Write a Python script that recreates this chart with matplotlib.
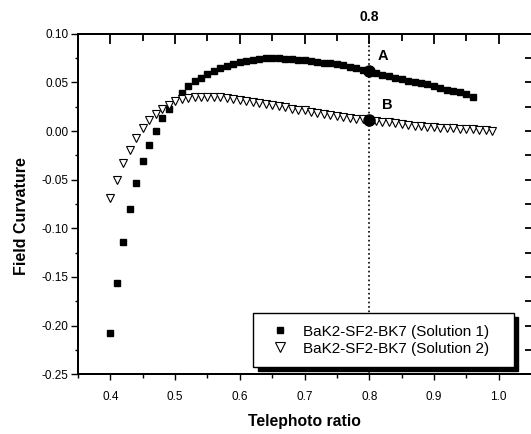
from matplotlib import pyplot as plt
import numpy as np

plt.rcParams['font.family'] = ['Liberation Sans', 'DejaVu Sans']

# Solution 1 (filled squares)
sol1_x = [0.40, 0.41, 0.42, 0.43, 0.44, 0.45, 0.46, 0.47, 0.48, 0.49,
          0.51, 0.52, 0.53, 0.54, 0.55, 0.56, 0.57, 0.58, 0.59, 0.60,
          0.61, 0.62, 0.63, 0.64, 0.65, 0.66, 0.67, 0.68, 0.69, 0.70,
          0.71, 0.72, 0.73, 0.74, 0.75, 0.76, 0.77, 0.78, 0.79, 0.80,
          0.81, 0.82, 0.83, 0.84, 0.85, 0.86, 0.87, 0.88, 0.89, 0.90,
          0.91, 0.92, 0.93, 0.94, 0.95, 0.96]
sol1_y = [-0.208, -0.156, -0.114, -0.080, -0.053, -0.031, -0.014, 0.000, 0.013, 0.023,
          0.039, 0.046, 0.051, 0.055, 0.059, 0.062, 0.065, 0.067, 0.0695, 0.071,
          0.0725, 0.0735, 0.0745, 0.075, 0.075, 0.075, 0.0745, 0.074, 0.0733, 0.0727,
          0.072, 0.071, 0.0703, 0.0697, 0.0686, 0.0676, 0.0662, 0.0645, 0.063, 0.0614,
          0.060, 0.058, 0.0567, 0.055, 0.0538, 0.052, 0.0508, 0.0495, 0.048, 0.046,
          0.044, 0.0425, 0.041, 0.0397, 0.038, 0.0353]

# Solution 2 (open triangles)
sol2_x = [0.40, 0.41, 0.42, 0.43, 0.44, 0.45, 0.46, 0.47, 0.48, 0.49,
          0.50, 0.51, 0.52, 0.53, 0.54, 0.55, 0.56, 0.57, 0.58, 0.59,
          0.60, 0.61, 0.62, 0.63, 0.64, 0.65, 0.66, 0.67, 0.68, 0.69,
          0.70, 0.71, 0.72, 0.73, 0.74, 0.75, 0.76, 0.77, 0.78, 0.79,
          0.80, 0.81, 0.82, 0.83, 0.84, 0.85, 0.86, 0.87, 0.88, 0.89,
          0.90, 0.91, 0.92, 0.93, 0.94, 0.95, 0.96, 0.97, 0.98, 0.99]
sol2_y = [-0.069, -0.050, -0.033, -0.0195, -0.0072, 0.003, 0.011, 0.018, 0.023, 0.027,
          0.031, 0.0325, 0.034, 0.035, 0.0353, 0.0355, 0.0352, 0.0348, 0.034, 0.033,
          0.032, 0.031, 0.030, 0.029, 0.0275, 0.0265, 0.0255, 0.0243, 0.023, 0.022,
          0.0212, 0.020, 0.019, 0.018, 0.017, 0.016, 0.0148, 0.0138, 0.0128, 0.012,
          0.0115, 0.0105, 0.0097, 0.009, 0.008, 0.007, 0.0062, 0.0055, 0.005, 0.0045,
          0.004, 0.0036, 0.0032, 0.0028, 0.0025, 0.0022, 0.0018, 0.0013, 0.001, 0.0005]

# highlighted points at telephoto ratio 0.8
mark_x = 0.8
mark_labels = ["A", "B"]
mark_y = [0.0614, 0.0117]

labels = ["BaK2-SF2-BK7 (Solution 1)   ", "BaK2-SF2-BK7 (Solution 2)   "]


def main():
    fig = plt.figure(figsize=(5.31, 4.34), dpi=100)
    ax = fig.add_axes([0.147, 0.138, 0.853, 0.784])

    ax.axvline(mark_x, color="k", linestyle=":", linewidth=1.2, zorder=1)

    ax.plot(sol1_x, sol1_y, "s", color="k", markersize=3.9, linestyle="none",
            label=labels[0], zorder=3)
    ax.plot(sol2_x, sol2_y, "v", markerfacecolor="white", markeredgecolor="k",
            markeredgewidth=0.8, markersize=5.2, linestyle="none",
            label=labels[1], zorder=4)

    ax.plot([mark_x] * len(mark_y), mark_y, "o", color="k", markersize=8, zorder=5)
    offsets = [(6, 8), (9, 8)]
    for lab, y, off in zip(mark_labels, mark_y, offsets):
        ax.annotate(lab, (mark_x, y), xytext=off, textcoords="offset points",
                    fontsize=10.5, fontweight="bold")

    ax.text(mark_x, 1.03, "0.8", transform=ax.get_xaxis_transform(),
            ha="center", va="bottom", fontsize=10, fontweight="bold")

    ax.set_xlim(0.35, 1.05)
    ax.set_ylim(-0.25, 0.10)
    ax.set_xticks(np.arange(0.4, 1.01, 0.1))
    ax.set_xticks(np.arange(0.35, 1.05, 0.05), minor=True)
    ax.set_yticks(np.arange(-0.25, 0.101, 0.05))
    ax.set_yticks(np.arange(-0.25, 0.101, 0.025), minor=True)
    ax.set_xticklabels(["0.4", "0.5", "0.6", "0.7", "0.8", "0.9", "1.0"])
    ax.set_yticklabels(["-0.25", "-0.20", "-0.15", "-0.10", "-0.05", "0.00", "0.05", "0.10"])

    ax.tick_params(axis="x", which="major", direction="out", length=4, width=1,
                   pad=8, labelsize=8.5)
    ax.tick_params(axis="x", which="minor", direction="out", length=3, width=1)
    ax.tick_params(axis="y", which="major", direction="out", length=5, width=1,
                   pad=2, labelsize=8.5)
    ax.tick_params(axis="y", which="minor", direction="out", length=2.5, width=1)

    # top and right ticks point inwards, so they live on twin axes
    top = ax.twiny()
    top.set_xlim(ax.get_xlim())
    top.set_xticks(np.arange(0.4, 1.01, 0.1))
    top.set_xticks(np.arange(0.35, 1.05, 0.05), minor=True)
    top.tick_params(axis="x", which="major", direction="in", length=7, width=1.3,
                    labeltop=False)
    top.tick_params(axis="x", which="minor", direction="in", length=5, width=1.3)

    right = ax.twinx()
    right.set_ylim(ax.get_ylim())
    right.set_yticks(np.arange(-0.25, 0.101, 0.025))
    right.tick_params(axis="y", which="both", direction="in", length=4.5, width=1.3,
                      labelright=False)

    for a in [ax, top, right]:
        a.spines["right"].set_visible(False)
        for s in ["left", "bottom", "top"]:
            a.spines[s].set_linewidth(1.3)

    ax.set_xlabel("Telephoto ratio", fontsize=11.3, fontweight="bold", labelpad=8)
    ax.set_ylabel("Field Curvature", fontsize=11.5, fontweight="bold")
    ax.yaxis.set_label_coords(-0.108, 0.465)

    leg = ax.legend(loc="lower right", bbox_to_anchor=(0.962, 0.02), borderaxespad=0,
                    fontsize=11, fancybox=False, framealpha=1, edgecolor="k",
                    handletextpad=0.49, borderpad=0.75, labelspacing=0.2,
                    handlelength=2.03, markerscale=1.25,
                    shadow={"ox": 3, "oy": -3, "facecolor": "k", "edgecolor": "k", "alpha": 1})
    leg.get_frame().set_linewidth(1)
    leg.set_zorder(10)
    right.set_zorder(-1)
    top.set_zorder(-1)
    ax.patch.set_visible(False)

    fig.savefig("out.png", dpi=100)


if __name__ == '__main__':
    main()
